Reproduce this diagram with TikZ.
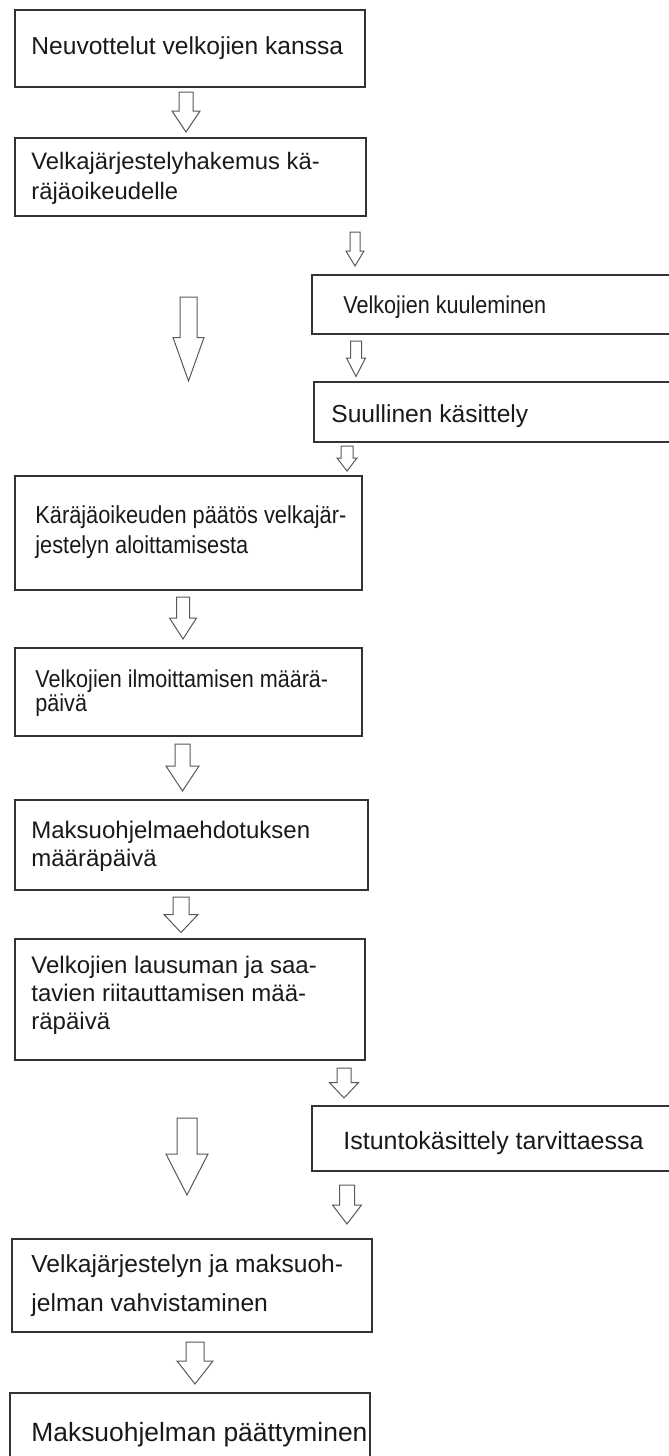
\documentclass[tikz,border=0pt]{standalone}
\usepackage{fontspec}
\setmainfont{Liberation Sans}
\newfontfamily\narrowfont[FakeStretch=0.885]{Liberation Sans}
\usetikzlibrary{positioning,fit,calc}
\newcommand{\boxfont}[2]{\fontsize{#1pt}{#2pt}\selectfont}
\tikzset{
  stepbox/.style={draw=black!80, line width=0.75pt, inner sep=0pt},
  steptext/.style={anchor=west, align=left, inner sep=0pt, text=black!90},
  blockarrow/.style={draw=black!65, line width=0.5pt, fill=white},
}

\begin{document}
\begin{tikzpicture}[x=0.5pt,y=-0.5pt]
  \useasboundingbox (0,0) rectangle (669,1456);
  % main column
  \node[stepbox, fit={(15,10) (365,87)}] (b1) {};
  \node[steptext, font=\boxfont{12.3}{15}] (t1) at (31,48) {Neuvottelut velkojien kanssa};
  \node[stepbox, fit={(15,138) (366,216)}] (b2) {};
  \node[steptext, font=\boxfont{11.9}{15}] (t2) at (31,178) {Velkajärjestelyhakemus kä-\\räjäoikeudelle};
  \node[stepbox, fit={(15,476) (362,590)}] (b5) {};
  \node[steptext, font=\narrowfont\boxfont{12.3}{15}] (t5) at (35,532) {Käräjäoikeuden päätös velkajär-\\jestelyn aloittamisesta};
  \node[stepbox, fit={(15,648) (362,736)}] (b6) {};
  \node[steptext, font=\narrowfont\boxfont{12.2}{11.7}] (t6) at (35,693) {Velkojien ilmoittamisen määrä-\\päivä};
  \node[stepbox, fit={(15,800) (368,890)}] (b7) {};
  \node[steptext, font=\boxfont{12}{14}] (t7) at (31,846) {Maksuohjelmaehdotuksen\\määräpäivä};
  \node[stepbox, fit={(15,939) (365,1060)}] (b8) {};
  \node[steptext, font=\boxfont{12}{14}] (t8) at (31,995) {Velkojien lausuman ja saa-\\tavien riitauttamisen mää-\\räpäivä};
  \node[stepbox, fit={(12,1239) (372,1332)}] (b10) {};
  \node[steptext, font=\boxfont{12.3}{19.5}] (t10) at (31,1286) {Velkajärjestelyn ja maksuoh-\\jelman vahvistaminen};
  \node[stepbox, fit={(10,1393) (370,1462)}] (b11) {};
  \node[steptext, font=\boxfont{13.2}{16}] (t11) at (31,1435) {Maksuohjelman päättyminen};
  % side column
  \node[stepbox, fit={(312,275) (674,334)}] (b3) {};
  \node[steptext, font=\narrowfont\boxfont{12.2}{13}] (t3) at (343,307) {Velkojien kuuleminen};
  \node[stepbox, fit={(314,382) (674,442)}] (b4) {};
  \node[steptext, font=\boxfont{12.3}{15}] (t4) at (331,416) {Suullinen käsittely};
  \node[stepbox, fit={(312,1106) (674,1171)}] (b9) {};
  \node[steptext, font=\boxfont{12.5}{15}] (t9) at (343,1143) {Istuntokäsittely tarvittaessa};
  % block arrows: n/x/top/head/tip/shaft/head width
  \foreach \n/\x/\ya/\yb/\yc/\sw/\hw in {1/186/92/111/132/7/14, 2/355/232/251/266/5/9,
      3/188.5/297/337.5/381/8.5/15.5, 4/356/341/358/376.5/5.5/9.5, 5/347/446/458/471/6/10,
      6/183/597/618/639/6.5/13.5, 7/182.5/744/766/791/7.5/16.5, 8/181/897/914.5/932.5/8/17,
      9/344/1068/1082.5/1098/7/14.5, 10/187/1118/1154/1195/10/21, 11/347/1185/1205/1224/7.5/14.5,
      12/195/1342/1361/1384/9/18} {
    \coordinate (top\n) at (\x,\ya);
    \coordinate (tip\n) at (\x,\yc);
    \draw[blockarrow] ($(top\n)+(-\sw,0)$) -- ($(top\n)+(\sw,0)$) -- ($(tip\n)+(\sw,\yb-\yc)$)
      -- ($(tip\n)+(\hw,\yb-\yc)$) -- (tip\n) -- ($(tip\n)+(-\hw,\yb-\yc)$) -- ($(tip\n)+(-\sw,\yb-\yc)$) -- cycle;
  }
\end{tikzpicture}
\end{document}
